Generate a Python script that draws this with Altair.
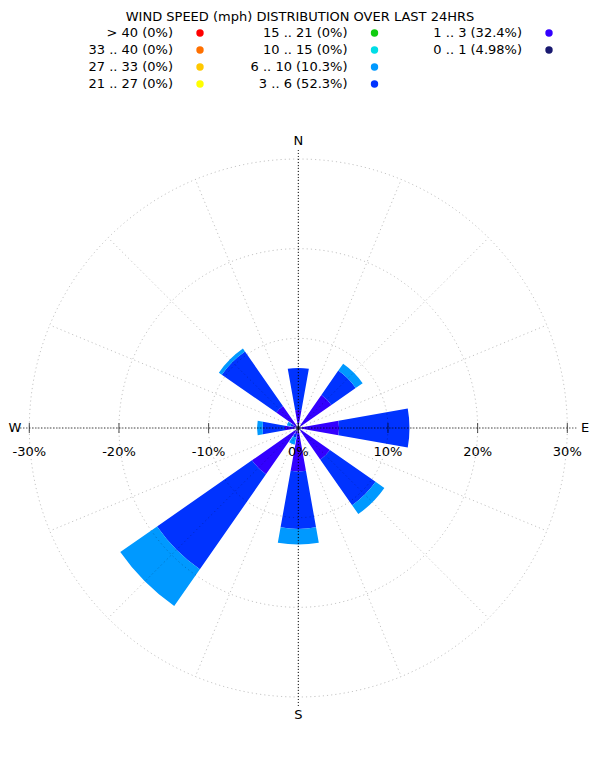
import math
import altair as alt
import pandas as pd

# ---------------- data ----------------
directions = ["N", "NNE", "NE", "ENE", "E", "ESE", "SE", "SSE",
              "S", "SSW", "SW", "WSW", "W", "WNW", "NW", "NNW"]

bins = ["0 .. 1", "1 .. 3", "3 .. 6", "6 .. 10", "10 .. 15",
        "15 .. 21", "21 .. 27", "27 .. 33", "33 .. 40", "> 40"]
bin_share = ["4.98%", "32.4%", "52.3%", "10.3%", "0%",
             "0%", "0%", "0%", "0%", "0%"]
bin_colors = ["#191970", "#3300ff", "#0033ff", "#0099ff", "#00dde6",
              "#11cc11", "#ffff00", "#ffc800", "#ff7000", "#ff0000"]

# percentage of time per direction and speed bin
spd_0_1 = [0.35, 0.25, 0.35, 0.25, 0.4, 0.25, 0.35, 0.25, 0.4, 0.3, 0.45, 0.25, 0.3, 0.3, 0.35, 0.25]
spd_1_3 = [1.65, 0, 4.15, 0, 4.15, 0, 3.95, 0, 4.45, 0.4, 5.85, 0, 1.2, 0.3, 2.65, 0]
spd_3_6 = [4.7, 0, 3.3, 0, 7.85, 0, 6.2, 0, 6.4, 0.4, 12.9, 0, 2.5, 0.3, 7.4, 0]
spd_6_10 = [0, 0, 0.95, 0, 0, 0, 1.2, 0, 1.75, 0.8, 5.0, 0, 0.6, 0.4, 0.4, 0]
spd_10_15 = [0] * 16
spd_15_21 = [0] * 16
spd_21_27 = [0] * 16
spd_27_33 = [0] * 16
spd_33_40 = [0] * 16
spd_40_up = [0] * 16
series = [spd_0_1, spd_1_3, spd_3_6, spd_6_10, spd_10_15,
          spd_15_21, spd_21_27, spd_27_33, spd_33_40, spd_40_up]

grid_radii = [10, 20, 30]
tick_values = [-30, -20, -10, 0, 10, 20, 30]
tick_labels = [f"{v}%" for v in tick_values]
compass = ["N", "E", "S"]
compass_deg = [0, 90, 180]
title_text = "WIND SPEED (mph) DISTRIBUTION OVER LAST 24HRS"

# ---------------- layout ----------------
W = 584
LEG_H = 90
ROSE_H = 650
CX = 290.3
CY = 330
R = 269          # pixels for 30 %
SECTOR = 360 / 16
HALF = 10.125    # half bar width, degrees
FONT = "DejaVu Sans"

# stacked bar table
rows = []
for i, d in enumerate(directions):
    cum = 0.0
    for b, vals in zip(bins, series):
        v = vals[i]
        if v > 0:
            rows.append({"dir": d, "idx": i, "bin": b, "r0": cum, "r1": cum + v})
            cum += v
bars_df = pd.DataFrame(rows)

xs = alt.Scale(domain=[-30, 30], range=[CX - R, CX + R], nice=False, zero=False)
ys = alt.Scale(domain=[-30, 30], range=[CY + R, CY - R], nice=False, zero=False)
rs = alt.Scale(type="linear", domain=[0, 30], range=[0, R], zero=True, nice=False)
ts = alt.Scale(type="linear", domain=[0, 360], range=[0, 2 * math.pi], nice=False, zero=False)
cs = alt.Scale(domain=bins, range=bin_colors)

X0 = alt.XDatum(0, scale=xs, axis=None)
Y0 = alt.YDatum(0, scale=ys, axis=None)

bars = alt.Chart(bars_df).transform_calculate(
    t0=f"datum.idx * {SECTOR} - {HALF}",
    t1=f"datum.idx * {SECTOR} + {HALF}",
).mark_arc().encode(
    x=X0, y=Y0,
    theta=alt.Theta("t0:Q", scale=ts, stack=False),
    theta2="t1:Q",
    radius=alt.Radius("r1:Q", scale=rs, stack=False),
    radius2="r0:Q",
    color=alt.Color("bin:N", scale=cs, legend=None),
)

circles = alt.Chart(pd.DataFrame({"r": grid_radii})).mark_arc(
    filled=False, stroke="black", strokeOpacity=0.3, strokeWidth=0.8,
    strokeDash=[1.2, 3], theta=0, theta2=2 * math.pi,
).encode(x=X0, y=Y0, radius=alt.Radius("r:Q", scale=rs, stack=False))

spokes = alt.Chart(pd.DataFrame({"idx": list(range(16))})).transform_calculate(
    x0="0", y0="0",
    x1=f"30 * sin(datum.idx * {SECTOR} * PI / 180)",
    y1=f"30 * cos(datum.idx * {SECTOR} * PI / 180)",
).mark_rule(stroke="black", strokeOpacity=0.3, strokeWidth=0.8, strokeDash=[1.2, 3]).encode(
    x=alt.X("x0:Q", scale=xs, axis=None), y=alt.Y("y0:Q", scale=ys, axis=None),
    x2="x1:Q", y2="y1:Q",
)

axes_lines = alt.Chart(pd.DataFrame({"deg": [90, 0]})).transform_calculate(
    x0="-31 * sin(datum.deg * PI / 180)",
    y0="-31 * cos(datum.deg * PI / 180)",
    x1="31 * sin(datum.deg * PI / 180)",
    y1="31 * cos(datum.deg * PI / 180)",
).mark_rule(stroke="black", strokeWidth=1, strokeDash=[1, 2]).encode(
    x=alt.X("x0:Q", scale=xs, axis=None), y=alt.Y("y0:Q", scale=ys, axis=None),
    x2="x1:Q", y2="y1:Q",
)

tick_df = pd.DataFrame({"v": tick_values, "lab": tick_labels})
ticks = alt.Chart(tick_df).mark_tick(orient="vertical", size=10, thickness=1, color="black").encode(
    x=alt.X("v:Q", scale=xs, axis=None), y=Y0,
)
tick_text = alt.Chart(tick_df).mark_text(dy=24, fontSize=13, font=FONT, color="black").encode(
    x=alt.X("v:Q", scale=xs, axis=None), y=Y0, text="lab:N",
)

comp_df = pd.DataFrame({"lab": compass, "deg": compass_deg})
comp_text = alt.Chart(comp_df).transform_calculate(
    cx="32 * sin(datum.deg * PI / 180)",
    cy="32 * cos(datum.deg * PI / 180)",
).mark_text(fontSize=13, font=FONT, color="black").encode(
    x=alt.X("cx:Q", scale=xs, axis=None), y=alt.Y("cy:Q", scale=ys, axis=None), text="lab:N",
)
west_text = alt.Chart(pd.DataFrame({"lab": ["W"], "deg": [270]})).transform_calculate(
    cx="32 * sin(datum.deg * PI / 180)",
    cy="32 * cos(datum.deg * PI / 180)",
).mark_text(fontSize=13, font=FONT, color="black", dx=3.5).encode(
    x=alt.X("cx:Q", scale=xs, axis=None), y=alt.Y("cy:Q", scale=ys, axis=None), text="lab:N",
)

rose = alt.layer(bars, circles, spokes, axes_lines, ticks, tick_text, comp_text, west_text).properties(
    width=W, height=ROSE_H
)

# ---------------- legend ----------------
leg_rows = []
for k, b in enumerate(reversed(bins)):
    j = bins.index(b)
    leg_rows.append({"bin": b, "lab": f"{b} ({bin_share[j]})", "col": k // 4, "row": k % 4})
leg_df = pd.DataFrame(leg_rows)

lx = alt.Scale(domain=[0, 2], range=[192, 541], nice=False, zero=False)
ly = alt.Scale(domain=[0, 3], range=[25, 76], nice=False, zero=False)

leg_pts = alt.Chart(leg_df).mark_point(filled=True, size=55, opacity=1).encode(
    x=alt.X("col:Q", scale=lx, axis=None), y=alt.Y("row:Q", scale=ly, axis=None),
    color=alt.Color("bin:N", scale=cs, legend=None),
)
leg_txt = alt.Chart(leg_df).mark_text(align="right", dx=-27, fontSize=13, font=FONT, color="black").encode(
    x=alt.X("col:Q", scale=lx, axis=None), y=alt.Y("row:Q", scale=ly, axis=None), text="lab:N",
)
leg_title = alt.Chart(pd.DataFrame({"t": [title_text]})).mark_text(
    fontSize=13, font=FONT, color="black"
).encode(x=alt.value(W / 2), y=alt.value(9), text="t:N")

legend = alt.layer(leg_title, leg_pts, leg_txt).properties(width=W, height=LEG_H)

chart = alt.vconcat(legend, rose, spacing=0, bounds="flush").properties(
    padding=0
).configure(
    font=FONT,
    view=alt.ViewConfig(stroke="transparent", strokeWidth=0),
)

chart.save("out.html", embed_options={"renderer": "svg", "actions": False})
